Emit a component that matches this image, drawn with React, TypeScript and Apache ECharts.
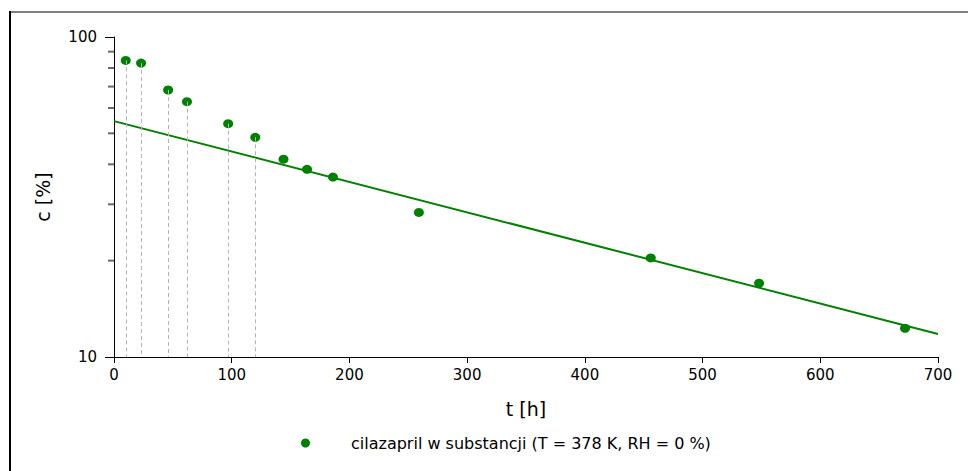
import React, { useEffect, useRef } from "react";
import * as echarts from "echarts";

const tValues = [10, 23, 46, 62, 97, 120, 144, 164, 186, 259, 456, 548, 672];
const cValues = [84.5, 82.9, 68.3, 62.8, 53.6, 48.6, 41.5, 38.6, 36.5, 28.3, 20.4, 17.0, 12.3];
const fitT = [0, 700];
const fitC = [54.6, 11.8];
const dropLineCount = 6;
const yMinorTicks = [20, 30, 40, 50, 60, 70, 80, 90];
const seriesName = "cilazapril w substancji (T = 378 K, RH = 0 %)";

const FONT = "DejaVu Sans";

export default function App() {
  const ref = useRef<HTMLDivElement>(null);
  useEffect(() => {
    if (!ref.current) return;
    const chart = echarts.init(ref.current, null, { renderer: "svg" });
    const points = tValues.map((t, i) => [t, cValues[i]]);
    const fit = fitT.map((t, i) => [t, fitC[i]]);
    const drops = points.slice(0, dropLineCount).map((p) => [
      { coord: [p[0], p[1]] },
      { coord: [p[0], 10] },
    ]);
    chart.setOption({
      animation: false,
      textStyle: { fontFamily: FONT, color: "#000" },
      graphic: [
        { type: "line", shape: { x1: 10, y1: 12, x2: 968, y2: 12 }, style: { stroke: "#808080", lineWidth: 2 } },
        { type: "line", shape: { x1: 10, y1: 11, x2: 10, y2: 471 }, style: { stroke: "#000", lineWidth: 2 } },
      ],
      grid: { left: 114, right: 30, top: 37, bottom: 114 },
      legend: {
        data: [seriesName],
        left: 296,
        top: 430,
        itemWidth: 9,
        itemHeight: 9,
        icon: "circle",
        textStyle: { fontFamily: FONT, fontSize: 16, color: "#000", padding: [0, 0, 0, 36] },
      },
      xAxis: {
        type: "value",
        min: 0,
        max: 700,
        interval: 100,
        name: "t [h]",
        nameLocation: "middle",
        nameGap: 42,
        nameTextStyle: { fontFamily: FONT, fontSize: 19, color: "#000" },
        axisLine: { lineStyle: { color: "#000", width: 1 } },
        axisTick: { length: 6, lineStyle: { color: "#000" } },
        axisLabel: { margin: 10, fontFamily: FONT, fontSize: 15, color: "#000" },
        splitLine: { show: false },
      },
      yAxis: {
        type: "log",
        logBase: 10,
        min: 10,
        max: 100,
        name: "c [%]",
        nameLocation: "middle",
        nameGap: 62,
        nameTextStyle: { fontFamily: FONT, fontSize: 19, color: "#000" },
        axisLine: { show: true, lineStyle: { color: "#000", width: 1 } },
        axisTick: { show: true, length: 9, lineStyle: { color: "#000" } },
        axisLabel: { margin: 17, fontFamily: FONT, fontSize: 15, color: "#000" },
        splitLine: { show: false },
      },
      series: [
        {
          type: "line",
          data: [],
          silent: true,
          markLine: {
            silent: true,
            symbol: "none",
            label: { show: false },
            lineStyle: { type: [4, 3], color: "#b4b4b4", width: 1 },
            data: drops,
          },
        },
        {
          type: "line",
          data: fit,
          showSymbol: false,
          symbol: "none",
          lineStyle: { color: "#008000", width: 2 },
          silent: true,
        },
        {
          name: seriesName,
          type: "scatter",
          data: points,
          symbol: "circle",
          symbolSize: [10, 9],
          itemStyle: { color: "#008000", opacity: 1 },
        },
        {
          type: "scatter",
          clip: false,
          data: yMinorTicks.map((v) => [0, v]),
          symbol: "rect",
          symbolSize: [6, 2],
          symbolOffset: [-3, 0],
          itemStyle: { color: "#444" },
        },
      ],
    });
    return () => chart.dispose();
  }, []);
  return (
    <div
      ref={ref}
      style={{ position: "fixed", left: 0, top: 0, width: 968, height: 471, background: "#fff" }}
    />
  );
}
